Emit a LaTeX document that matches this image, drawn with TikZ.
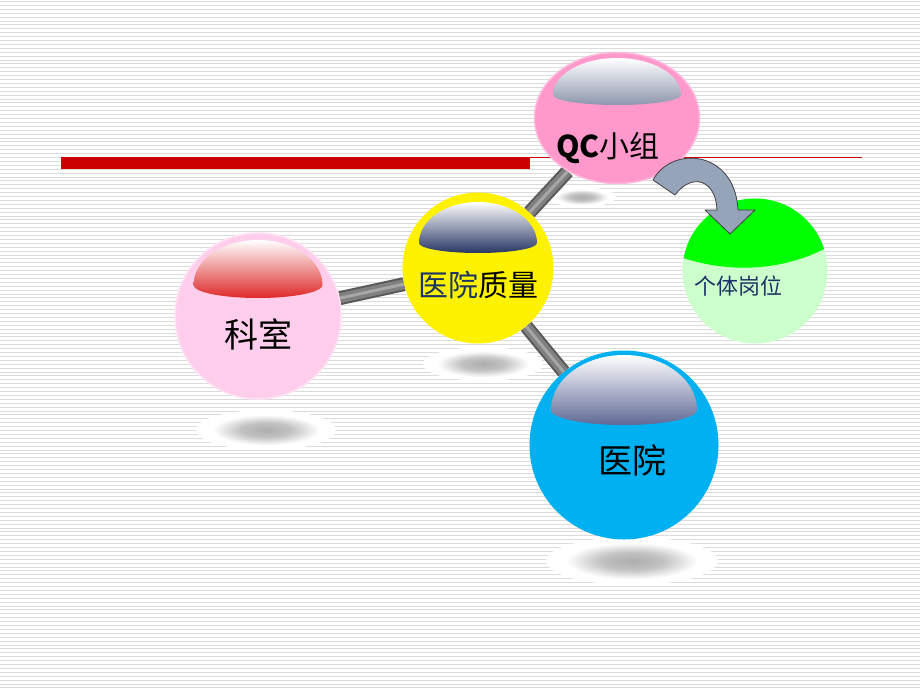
\documentclass[tikz,border=0pt]{standalone}
\usepackage{fontspec}
\newfontfamily\cjk{Noto Sans CJK SC}
\usepackage{tikz}
\usetikzlibrary{calc}
\usetikzlibrary{shapes.geometric}
\usetikzlibrary{positioning}
\pgfdeclarelayer{bg}
\pgfdeclarelayer{rods}
\pgfsetlayers{bg,rods,main}
\definecolor{qcpink}{RGB}{255,153,204}
\definecolor{kspink}{RGB}{255,206,236}
\definecolor{yyblue}{RGB}{0,176,240}
\definecolor{gwgreen}{RGB}{0,255,0}
\definecolor{gwpale}{RGB}{204,255,204}
\definecolor{barred}{RGB}{204,0,0}
\definecolor{txtnavy}{RGB}{28,52,100}
\definecolor{arrowgray}{RGB}{150,164,186}
\definecolor{capqc}{RGB}{140,150,172}
\definecolor{capks}{RGB}{222,40,40}
\definecolor{capzl}{RGB}{40,55,100}
\definecolor{capyy}{RGB}{95,105,150}
\pgfdeclareradialshading{shadowblob}{\pgfpoint{0bp}{0bp}}{color(0bp)=(black!32); color(9bp)=(black!24); color(19bp)=(white); color(25bp)=(white); color(50bp)=(white)}
% highlight cap: node, half width, corner offset, rise, drop, colour
\newcommand{\sphcap}[6]{\shade[top color=white, bottom color=#6] ($(#1)+(-#2,#3)$) arc[start angle=180, end angle=360, x radius=#2, y radius=#4] arc[start angle=0, end angle=180, x radius=#2, y radius=#5] -- cycle;}
% shadow under a sphere: centre, x radius, y radius
\newcommand{\sphshadow}[3]{\shade[shading=shadowblob] #1 ellipse[x radius=#2, y radius=#3];}

\begin{document}
\begin{tikzpicture}[
x=1pt, y=-1pt,
Sphere/.style={circle, inner sep=0pt, draw=none},
Rod/.style={line width=14pt, draw=black!65},
RodCore/.style={line width=10pt, draw=black!50},
RodShine/.style={line width=3pt, draw=black!35},
Label/.style={font=\cjk, inner sep=0pt, text=black},
BigArrow/.style={fill=arrowgray, draw=black!75, line width=0.8pt, line join=round}
]
\useasboundingbox (0,0) rectangle (920,690);

% striped background
\begin{pgfonlayer}{bg}
\fill[white] (0,0) rectangle (920,690);
\foreach \yy in {1.5,5.4,...,690}
  \draw[black!14, line width=0.9pt] (0,\yy) -- (920,\yy);
\fill[barred] (61,157) rectangle (530,169);
\draw[barred, line width=1.5pt] (530,157.5) -- (862,157.5);
% shadows
\sphshadow{(582,197)}{34}{10}
\sphshadow{(266,430)}{70}{20}
\sphshadow{(483,364)}{60}{17}
\sphshadow{(632,561)}{86}{24}
\end{pgfonlayer}

% spheres
\node[ellipse, inner sep=0pt, fill=qcpink, draw=qcpink!70!white, line width=1.5pt,
      minimum width=165pt, minimum height=131pt] (qc) at (617,118) {};
\node[Sphere, fill=kspink, draw=kspink!60!white, line width=1.5pt, minimum size=166pt] (ks) at (258,316) {};
\node[Sphere, fill=yellow, minimum size=151pt] (zl) at (478,268) {};
\node[Sphere, fill=yyblue, minimum size=189pt] (yy) at (624,445) {};
\node[Sphere, fill=gwpale, minimum size=145pt] (gw) at (755,271) {};

% rods
\begin{pgfonlayer}{rods}
\foreach \a/\b in {ks/zl, zl/qc, zl/yy} {
  \draw[Rod] (\a) -- (\b);
  \draw[RodCore] (\a) -- (\b);
  \draw[RodShine] (\a) -- (\b);
}
\end{pgfonlayer}

% green top of the small sphere
\begin{scope}
\clip (gw.center) circle[radius=72.5];
\fill[gwgreen] ($(gw)+(-80,-90)$) -- ($(gw)+(-80,-16)$)
  .. controls ($(gw)+(-30,3)$) and ($(gw)+(30,2)$) .. ($(gw)+(80,-28)$)
  -- ($(gw)+(80,-90)$) -- cycle;
\end{scope}

% highlight caps
\sphcap{qc}{64}{-23}{37}{10}{capqc}
\sphcap{ks}{64.5}{-31}{45}{13}{capks}
\sphcap{zl}{59}{-25}{41}{10}{capzl}
\sphcap{yy}{73}{-35}{55}{15}{capyy}

% texts
\node[Label, font=\cjk\fontsize{30}{34}\selectfont] (qct) at ($(qc)+(-9,30)$) {\textbf{QC}小组};
\node[Label, font=\cjk\fontsize{34}{38}\selectfont] (kst) at ($(ks)+(0,18)$) {科室};
\node[Label, font=\cjk\fontsize{30}{34}\selectfont] (zlt) at ($(zl)+(0,17)$) {\textcolor{txtnavy}{医院}质量};
\node[Label, font=\cjk\fontsize{34}{38}\selectfont] (yyt) at ($(yy)+(8,15)$) {医院};
\node[Label, font=\cjk\fontsize{22}{26}\selectfont, text=txtnavy] (gwt) at ($(gw)+(-17,15)$) {个体岗位};

% curved arrow from QC to the small sphere
\draw[BigArrow] ($(qc)+(36,62)$) .. controls ($(qc)+(55,27)$) and ($(gw)+(-20,-121)$) .. ($(gw)+(-17,-61)$)
  -- ($(gw)+(0,-61)$) -- ($(gw)+(-25,-37)$) -- ($(gw)+(-50,-61)$) -- ($(gw)+(-38,-61)$)
  .. controls ($(gw)+(-39,-91)$) and ($(qc)+(75,54)$) .. ($(qc)+(58,77)$) -- cycle;

\end{tikzpicture}
\end{document}
